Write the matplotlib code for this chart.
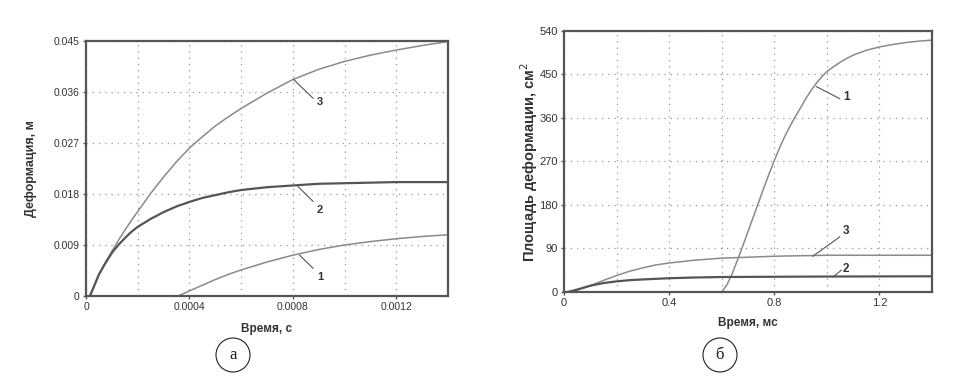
import numpy as np
import matplotlib
matplotlib.use('Agg')
import matplotlib.pyplot as plt
from matplotlib.patches import Ellipse

plt.rcParams['font.family'] = ['Liberation Sans', 'DejaVu Sans']

# --- panel a: deformation, m vs time, s ---
t_a = np.array([0.15, 0.3, 0.5, 0.75, 1.0, 1.25, 1.5, 1.75, 2, 2.5, 3, 3.5, 4, 4.5, 5, 5.5, 6, 7, 8, 9, 10, 11, 12, 13, 14]) * 1e-4
a_curve3 = np.array([0, 1.6, 3.8, 5.9, 7.9, 9.8, 11.6, 13.3, 14.9, 18.1, 21.0, 23.7, 26.1, 28.1, 30.0, 31.6, 33.1,
                     35.8, 38.2, 40.0, 41.4, 42.5, 43.4, 44.2, 44.9]) * 1e-3
a_curve2 = np.array([0, 1.6, 3.8, 5.8, 7.6, 9.0, 10.2, 11.3, 12.2, 13.6, 14.8, 15.8, 16.6, 17.3, 17.8, 18.3, 18.7,
                     19.2, 19.5, 19.8, 19.9, 20.0, 20.1, 20.1, 20.1]) * 1e-3
t_a1 = np.array([3.57, 4, 4.5, 5, 5.5, 6, 6.5, 7, 8, 9, 10, 11, 12, 13, 14]) * 1e-4
a_curve1 = np.array([0, 0.9, 1.9, 2.9, 3.8, 4.6, 5.3, 6.0, 7.2, 8.2, 9.0, 9.6, 10.1, 10.5, 10.8]) * 1e-3
a_xticks = [0, 0.0004, 0.0008, 0.0012]
a_xlabels = ['0', '0.0004', '0.0008', '0.0012']
a_yticks = [0, 0.009, 0.018, 0.027, 0.036, 0.045]
a_ylabels = ['0', '0.009', '0.018', '0.027', '0.036', '0.045']

# --- panel б: deformation area, cm^2 vs time, ms ---
t_b1 = np.array([0.60, 0.62, 0.64, 0.66, 0.68, 0.70, 0.72, 0.74, 0.76, 0.78, 0.80, 0.82, 0.84, 0.86, 0.88, 0.90,
                 0.92, 0.94, 0.96, 0.98, 1.0, 1.025, 1.05, 1.075, 1.1, 1.15, 1.2, 1.25, 1.3, 1.35, 1.4])
b_curve1 = np.array([0, 15, 38, 66, 95, 125, 155, 185, 215, 244, 272, 298, 322, 343, 363, 381,
                     400, 417, 432, 445, 456, 466, 475, 483, 490, 500, 507, 512, 516, 519, 521])
t_b3 = np.array([0.015, 0.05, 0.1, 0.15, 0.2, 0.25, 0.3, 0.35, 0.4, 0.5, 0.6, 0.7, 0.8, 0.9, 1.0, 1.4])
b_curve3 = np.array([0, 4, 13, 24, 34, 43, 50, 56, 60, 66, 70, 72, 74, 75, 76, 76])
t_b2 = np.array([0.015, 0.05, 0.1, 0.15, 0.2, 0.25, 0.3, 0.4, 0.5, 0.6, 0.8, 1.0, 1.4])
b_curve2 = np.array([0, 5, 13, 18.5, 22, 24.5, 26, 28.5, 30, 31, 31.5, 32, 32.5])
b_xticks = [0, 0.4, 0.8, 1.2]
b_xlabels = ['0', '0.4', '0.8', '1.2']
b_yticks = [0, 90, 180, 270, 360, 450, 540]

fig = plt.figure(figsize=(9.61, 3.83), dpi=100)
ax1 = fig.add_axes([0.0895, 0.2272, 0.3767, 0.6658])
ax2 = fig.add_axes([0.5869, 0.2376, 0.3829, 0.6815])

grid_kw = dict(color='#999999', linestyle=(0, (1, 4)), linewidth=0.9)

def style(ax, size):
    for s in ax.spines.values():
        s.set_color('#555555')
        s.set_linewidth(1.6)
    ax.tick_params(which='major', length=2.5, width=1, color='#555555', labelsize=size,
                   labelcolor='#333333', pad=2)
    ax.tick_params(which='minor', length=0)
    ax.grid(True, which='both', **grid_kw)

# panel a
ax1.plot(t_a, a_curve3, color='#8a8a8a', lw=1.1)
ax1.plot(t_a, a_curve2, color='#555555', lw=1.6)
ax1.plot(t_a1, a_curve1, color='#8a8a8a', lw=1.1)
ax1.set_xlim(0, 0.0014)
ax1.set_ylim(0, 0.045)
ax1.set_xticks(a_xticks)
ax1.set_xticklabels(a_xlabels)
ax1.set_xticks(np.arange(0, 0.00141, 0.0002), minor=True)
ax1.set_yticks(a_yticks)
ax1.set_yticklabels(a_ylabels)
style(ax1, 7.5)
ax1.set_xlabel('Время, с', fontsize=8.5, fontweight='bold', color='#333333', labelpad=8)
ax1.set_ylabel('Деформация, м', fontsize=9, fontweight='bold', color='#333333', labelpad=12)

for lbl, p0, p1, pt in [('3', (0.000803, 0.0382), (0.000878, 0.0349), (0.000905, 0.0342)),
                        ('2', (0.000820, 0.0193), (0.000878, 0.0167), (0.000905, 0.0152)),
                        ('1', (0.000826, 0.0072), (0.000878, 0.0049), (0.000905, 0.0034))]:
    ax1.plot([p0[0], p1[0]], [p0[1], p1[1]], color='#555555', lw=0.8)
    ax1.text(pt[0], pt[1], lbl, fontsize=8, fontweight='bold', color='#333333', ha='center', va='center')

# panel б
ax2.plot(t_b1, b_curve1, color='#8a8a8a', lw=1.1)
ax2.plot(t_b3, b_curve3, color='#8a8a8a', lw=1.1)
ax2.plot(t_b2, b_curve2, color='#555555', lw=1.6)
ax2.set_xlim(0, 1.4)
ax2.set_ylim(0, 540)
ax2.set_xticks(b_xticks)
ax2.set_xticklabels(b_xlabels)
ax2.set_xticks(np.arange(0, 1.41, 0.2), minor=True)
ax2.set_yticks(b_yticks)
style(ax2, 8)
ax2.set_xlabel('Время, мс', fontsize=8.5, fontweight='bold', color='#333333', labelpad=6)
ax2.set_ylabel('Площадь деформации, см$^2$', fontsize=10.5, fontweight='bold', color='#333333')
ax2.yaxis.set_label_coords(-0.066, 0.5)

for lbl, p0, p1, pt in [('1', (0.96, 425), (1.049, 400), (1.074, 404)),
                        ('3', (0.947, 74), (1.049, 114), (1.074, 126)),
                        ('2', (1.023, 31), (1.055, 45), (1.074, 48))]:
    ax2.plot([p0[0], p1[0]], [p0[1], p1[1]], color='#555555', lw=0.8)
    ax2.text(pt[0], pt[1], lbl, fontsize=8.5, fontweight='bold', color='#333333', ha='center', va='center')

# circled panel letters
for cx, letter in [(233, 'а'), (720, 'б')]:
    fig.patches.append(Ellipse((cx / 961, 1 - 355 / 383), 34 / 961, 34 / 383,
                               transform=fig.transFigure, fill=False, ec='#222222', lw=0.8))
    fig.text(cx / 961, 1 - 355 / 383, letter, fontsize=12, family='Liberation Serif',
             color='#1a1a3a', ha='center', va='center')

fig.savefig('out.png', dpi=100, facecolor='white')
